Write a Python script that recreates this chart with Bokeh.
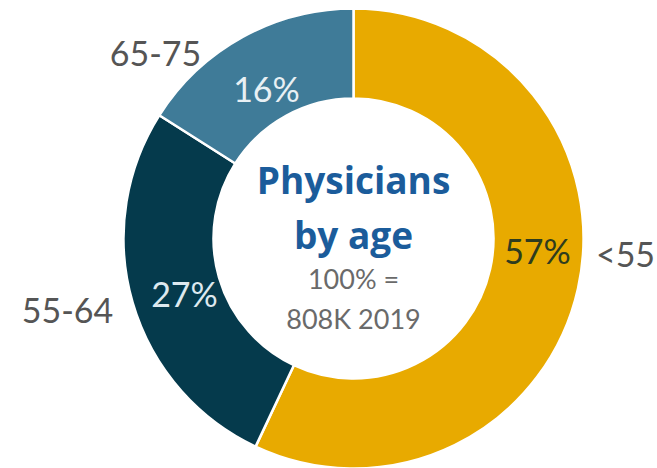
import math
from bokeh.plotting import figure
from bokeh.models import ColumnDataSource, Range1d
from bokeh.core.properties import value
from bokeh.embed import file_html
from bokeh.resources import INLINE

# ---- data ----
categories = ["<55", "55-64", "65-75"]
shares = [57, 27, 16]
pct_labels = ["57%", "27%", "16%"]
colors = ["#E8AA00", "#053A4C", "#3F7B98"]
title_lines = ["Physicians", "by age"]
sub_lines = ["100% =", "808K 2019"]

# ---- layout (screen pixels, y down) ----
W, H = 657, 468
CX, CY = 353, 238
R_OUT, R_IN = 230, 140
FONT = "Lato"
DY = -12  # text baseline correction

p = figure(width=W, height=H, output_backend="svg", toolbar_location=None,
           x_range=Range1d(0, W), y_range=Range1d(-H, 0),
           min_border=0, outline_line_color=None)
p.axis.visible = False
p.grid.visible = False
p.background_fill_color = "white"
p.border_fill_color = "white"

total = float(sum(shares))
starts, ends = [], []
cum = 0.0
for s in shares:
    starts.append(math.pi / 2 - 2 * math.pi * cum / total)
    cum += s
    ends.append(math.pi / 2 - 2 * math.pi * cum / total)

src = ColumnDataSource(dict(start=starts, end=ends, color=colors,
                            cat=categories, pct=pct_labels))
p.annular_wedge(x=CX, y=-CY, inner_radius=R_IN, outer_radius=R_OUT,
                start_angle="start", end_angle="end", direction="clock",
                fill_color="color", line_color="white", line_width=2.5,
                source=src)

# percent labels (positions: layout)
pct_pos = [(537, 262), (184, 305), (266, 100)]
pct_colors = ["#2E3C1E", "#DDE9EF", "#E8F0F4"]
for lab, (x, y), c in zip(pct_labels, pct_pos, pct_colors):
    p.text(x=[x], y=[-(y + DY)], text=[lab], text_align="center",
           text_baseline="alphabetic", text_font=value(FONT),
           text_font_size="34px", text_color=c)

# category labels
cat_pos = [(625, 265), (67, 322), (155, 65)]
for lab, (x, y) in zip(categories, cat_pos):
    p.text(x=[x], y=[-(y + DY)], text=[lab], text_align="center",
           text_baseline="alphabetic", text_font=value(FONT),
           text_font_size="34px", text_color="#555555")

# center title
for lab, y in zip(title_lines, [191, 246]):
    p.text(x=[CX], y=[-(y + DY)], text=[lab], text_align="center",
           text_baseline="alphabetic", text_font=value("Open Sans"),
           text_font_style="bold", text_font_size="37px",
           text_color="#1B5C9B")
for lab, y in zip(sub_lines, [290, 330]):
    p.text(x=[CX], y=[-(y + DY)], text=[lab], text_align="center",
           text_baseline="alphabetic", text_font=value(FONT),
           text_font_size="27px", text_color="#6A6A6A")

open("out.html", "w").write(file_html(p, INLINE))
